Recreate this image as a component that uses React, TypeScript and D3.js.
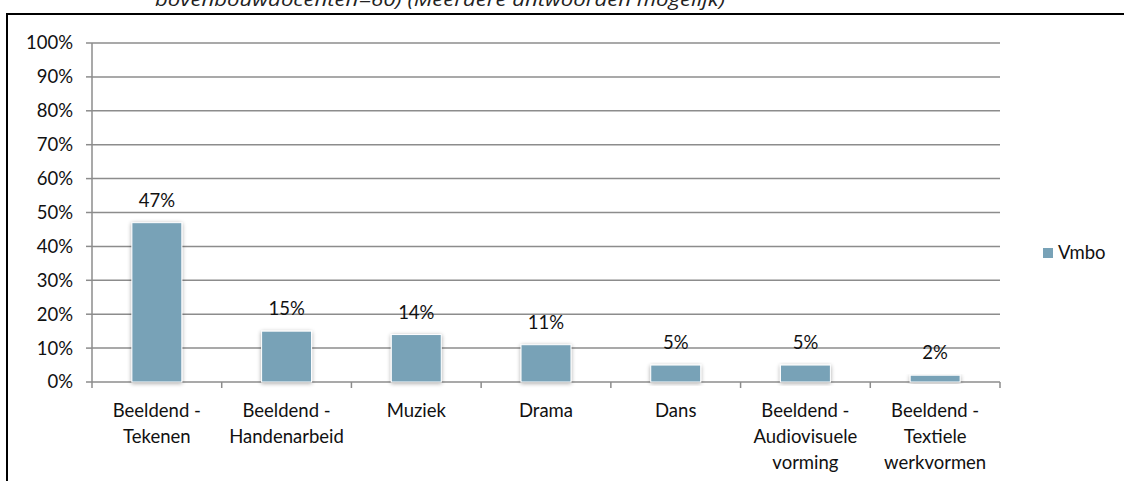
import React from "react";
import * as d3 from "d3";

const categories: string[][] = [
  ["Beeldend -", "Tekenen"],
  ["Beeldend -", "Handenarbeid"],
  ["Muziek"],
  ["Drama"],
  ["Dans"],
  ["Beeldend -", "Audiovisuele", "vorming"],
  ["Beeldend -", "Textiele", "werkvormen"],
];
const values: number[] = [47, 15, 14, 11, 5, 5, 2];
const yTicks: number[] = [0, 10, 20, 30, 40, 50, 60, 70, 80, 90, 100];
const seriesName = "Vmbo";
const titleText = "bovenbouwdocenten=60) (Meerdere antwoorden mogelijk)";

const W = 1124;
const H = 481;
const FONT = "Lato, 'Open Sans', sans-serif";
const BAR = "#78A2B7";
const FS = 18.5;

export default function App() {
  const left = 92;
  const right = 1000;
  const top = 43;
  const bottom = 382;
  const keys = categories.map((_, i) => String(i));
  const x = d3.scaleBand<string>().domain(keys).range([left, right]).paddingInner(0.615).paddingOuter(0.3075);
  const xb = d3.scaleBand<string>().domain(keys).range([left, right]);
  const y = d3.scaleLinear().domain([0, 100]).range([bottom, top]);

  return (
    <svg width={W} height={H} style={{ position: "absolute", left: 0, top: 0, background: "#fff" }} fontFamily={FONT}>
      <defs>
        <filter id="sh" x="-20%" y="-20%" width="140%" height="140%">
          <feGaussianBlur in="SourceAlpha" stdDeviation="2" />
          <feOffset dx="0" dy="1" result="b" />
          <feComponentTransfer>
            <feFuncA type="linear" slope="0.35" />
          </feComponentTransfer>
          <feMerge>
            <feMergeNode />
            <feMergeNode in="SourceGraphic" />
          </feMerge>
        </filter>
      </defs>
      <rect x={0} y={0} width={W} height={H} fill="#fff" />
      <text x={155} y={6} fontSize={19} fontStyle="italic" fill="#222" textLength={570} lengthAdjust="spacingAndGlyphs" fontFamily="'Open Sans', sans-serif">
        {titleText}
      </text>
      <rect x={7} y={14} width={1130} height={480} fill="none" stroke="#000" strokeWidth={2} />
      {yTicks.map((t) => (
        <g key={t}>
          {t > 0 && <line x1={left} x2={right} y1={y(t)} y2={y(t)} stroke="#8c8c8c" strokeWidth={1.5} />}
          <line x1={left - 6} x2={left} y1={y(t)} y2={y(t)} stroke="#8c8c8c" strokeWidth={1.5} />
          <text x={73} y={y(t)} dy="0.35em" textAnchor="end" fontSize={FS} fill="#111">
            {t}%
          </text>
        </g>
      ))}
      <line x1={left} x2={left} y1={top} y2={bottom} stroke="#8c8c8c" strokeWidth={1.5} />
      <line x1={left} x2={right} y1={bottom} y2={bottom} stroke="#8c8c8c" strokeWidth={1.5} />
      {keys.map((k) => (
        <line key={"t" + k} x1={xb(k)!} x2={xb(k)!} y1={bottom} y2={bottom + 6} stroke="#8c8c8c" strokeWidth={1.5} />
      ))}
      <line x1={right} x2={right} y1={bottom} y2={bottom + 6} stroke="#8c8c8c" strokeWidth={1.5} />
      {values.map((v, i) => {
        const k = keys[i];
        const bx = x(k)!;
        const bw = x.bandwidth();
        return (
          <g key={"b" + k}>
            <rect x={bx} y={y(v)} width={bw} height={bottom - y(v)} fill={BAR} stroke="#fff" strokeWidth={1} filter="url(#sh)" />
            <text x={bx + bw / 2} y={y(v) - 16} textAnchor="middle" fontSize={FS} fill="#111">
              {v}%
            </text>
          </g>
        );
      })}
      {categories.map((lines, i) => {
        const k = keys[i];
        const cx = xb(k)! + xb.bandwidth() / 2;
        return (
          <text key={"c" + k} x={cx} textAnchor="middle" fontSize={FS} fill="#111">
            {lines.map((l, j) => (
              <tspan key={j} x={cx} y={417 + j * 26}>
                {l}
              </tspan>
            ))}
          </text>
        );
      })}
      <rect x={1043} y={248} width={10} height={10} fill={BAR} />
      <text x={1058} y={253} dy="0.35em" fontSize={FS} fill="#111">
        {seriesName}
      </text>
    </svg>
  );
}
